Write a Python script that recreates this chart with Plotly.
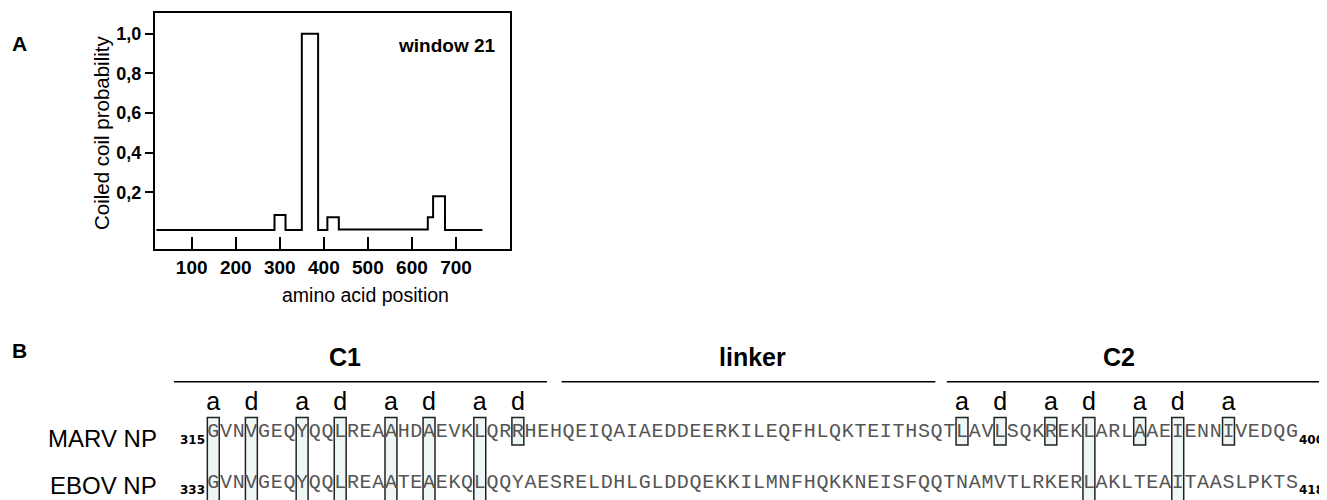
import plotly.graph_objects as go

# ---------------- Panel A data ----------------
aa_position = [20, 288, 313, 350, 387, 408, 434, 636, 648, 675, 760]
cc_probability = [0.01, 0.085, 0.01, 1.0, 0.01, 0.074, 0.013, 0.074, 0.18, 0.01, 0.01]
x_tickvals = [100, 200, 300, 400, 500, 600, 700]
y_tickvals = [0.2, 0.4, 0.6, 0.8, 1.0]
y_ticktext = ["0,2", "0,4", "0,6", "0,8", "1,0"]

# ---------------- Panel B data ----------------
marv_seq = "GVNVGEQYQQLREAAHDAEVKLQRRHEHQEIQAIAEDDEERKILEQFHLQKTEITHSQTLAVLSQKREKLARLAAEIENNIVEDQG"
ebov_seq = "GVNVGEQYQQLREAATEAEKQLQQYAESRELDHLGLDDQEKKILMNFHQKKNEISFQQTNAMVTLRKERLAKLTEAITAASLPKTS"
row_names = ["MARV NP", "EBOV NP"]
row_start = ["315", "333"]
row_end = ["400", "418"]
heptad_idx = [0, 3, 7, 10, 14, 17, 21, 24, 59, 62, 66, 69, 73, 76, 80]
heptad_lbl = ["a", "d", "a", "d", "a", "d", "a", "d", "a", "d", "a", "d", "a", "d", "a"]
shared_idx = [0, 3, 7, 10, 14, 17, 21, 69, 76]
section_names = ["C1", "linker", "C2"]
section_start = [-3.1, 27.45, 57.8]
section_end = [26.3, 56.9, 87.2]
section_title_at = [10.4, 42.5, 71.4]

W, H = 1327, 500
OFF = 8  # page body margin: screen px = figure px + OFF
FONT = "Arial, Liberation Sans, sans-serif"
MONO = "Courier New, Liberation Mono, monospace"


def px(sx):
    return (sx - OFF) / W


def py(sy):
    return 1 - (sy - OFF) / H


fig = go.Figure()

# Panel A step line
fig.add_trace(go.Scatter(
    x=aa_position, y=cc_probability, mode="lines", line_shape="hv",
    line=dict(color="black", width=2), xaxis="x", yaxis="y",
    showlegend=False, hoverinfo="skip"))

# Panel B: sequences, one character per residue index
row_y = [432, 483]
seqs = [marv_seq, ebov_seq]
for r, seq in enumerate(seqs):
    fig.add_trace(go.Scatter(
        x=list(range(len(seq))), y=[row_y[r]] * len(seq), text=list(seq),
        mode="text", textposition="middle center",
        textfont=dict(family=MONO, size=20, color="#555555"),
        xaxis="x2", yaxis="y2", showlegend=False, hoverinfo="skip", cliponaxis=False))

# heptad labels
fig.add_trace(go.Scatter(
    x=heptad_idx, y=[403.5] * len(heptad_idx), text=heptad_lbl,
    mode="text", textposition="middle center",
    textfont=dict(family=FONT, size=25, color="black"),
    xaxis="x2", yaxis="y2", showlegend=False, hoverinfo="skip", cliponaxis=False))

shapes = []
for i in heptad_idx:
    long_box = i in shared_idx
    shapes.append(dict(
        type="rect", xref="x2", yref="y2", layer="below",
        x0=i - 0.47, x1=i + 0.47, y0=417.5, y1=512 if long_box else 445,
        fillcolor="#eef6f6", line=dict(color="#222222", width=1.5)))
for s0, s1 in zip(section_start, section_end):
    shapes.append(dict(type="line", xref="x2", yref="y2",
                       x0=s0, x1=s1, y0=381.7, y1=381.7,
                       line=dict(color="black", width=1.5)))

annotations = []
for name, xt in zip(section_names, section_title_at):
    annotations.append(dict(x=xt, y=357, xref="x2", yref="y2", text=name,
                            showarrow=False,
                            font=dict(family=FONT, size=25, color="black", weight="bold"),
                            xanchor="center", yanchor="middle"))
label_y = [438, 485]
num_y = [439.5, 490]
for r in range(2):
    annotations.append(dict(x=px(159), y=py(label_y[r]), xref="paper", yref="paper",
                            text=row_names[r], showarrow=False,
                            font=dict(family=FONT, size=24, color="black"),
                            xanchor="right", yanchor="middle"))
    annotations.append(dict(x=-0.5, y=num_y[r], xref="x2", yref="y2", text=row_start[r],
                            showarrow=False,
                            font=dict(family="DejaVu Sans, sans-serif", size=12,
                                      color="black", weight="bold"),
                            xanchor="right", yanchor="middle"))
    annotations.append(dict(x=len(seqs[r]) - 0.6, y=num_y[r], xref="x2", yref="y2",
                            text=row_end[r], showarrow=False,
                            font=dict(family="DejaVu Sans, sans-serif", size=12,
                                      color="black", weight="bold"),
                            xanchor="left", yanchor="middle"))

# panel letters, axis titles, window label
annotations += [
    dict(x=px(10), y=py(44), xref="paper", yref="paper", text="A", showarrow=False,
         font=dict(family=FONT, size=21, color="black", weight="bold"),
         xanchor="left", yanchor="middle"),
    dict(x=px(10), y=py(350), xref="paper", yref="paper", text="B", showarrow=False,
         font=dict(family=FONT, size=21, color="black", weight="bold"),
         xanchor="left", yanchor="middle"),
    dict(x=px(101), y=py(133), xref="paper", yref="paper", text="Coiled coil probability",
         showarrow=False, textangle=-90, font=dict(family=FONT, size=20.5, color="black"),
         xanchor="center", yanchor="middle"),
    dict(x=px(365), y=py(295), xref="paper", yref="paper", text="amino acid position",
         showarrow=False, font=dict(family=FONT, size=19.5, color="black"),
         xanchor="center", yanchor="middle"),
    dict(x=795, y=0.943, xref="x", yref="y", text="window 21", showarrow=False,
         font=dict(family=FONT, size=19, color="black", weight="bold"),
         xanchor="right", yanchor="middle"),
]

px_per_res = 12.69
res0_screen = 213.3

fig.update_layout(
    width=W, height=H, margin=dict(l=0, r=0, t=0, b=0),
    paper_bgcolor="white", plot_bgcolor="rgba(0,0,0,0)",
    xaxis=dict(domain=[px(155), px(510)], range=[16.7, 822.6], anchor="y",
               tickvals=x_tickvals, ticks="inside", ticklen=12, tickwidth=2,
               tickcolor="black",
               showline=True, mirror=True, linewidth=2, linecolor="black",
               showgrid=False, zeroline=False,
               tickfont=dict(family=FONT, size=19, color="black", weight="bold")),
    yaxis=dict(domain=[py(249), py(13)], range=[-0.086, 1.105], anchor="x",
               tickvals=y_tickvals, ticktext=y_ticktext, ticks="outside", ticklen=8,
               tickwidth=2, tickcolor="black", ticklabelstandoff=0,
               showline=True, mirror=True, linewidth=2, linecolor="black",
               showgrid=False, zeroline=False,
               tickfont=dict(family=FONT, size=18, color="black", weight="bold")),
    xaxis2=dict(domain=[0, 1], anchor="y2", visible=False,
                range=[(OFF - res0_screen) / px_per_res,
                       (W + OFF - res0_screen) / px_per_res]),
    yaxis2=dict(domain=[0, 1], anchor="x2", visible=False, range=[H + OFF, OFF]),
    shapes=shapes, annotations=annotations,
)

fig.write_html("out.html")
